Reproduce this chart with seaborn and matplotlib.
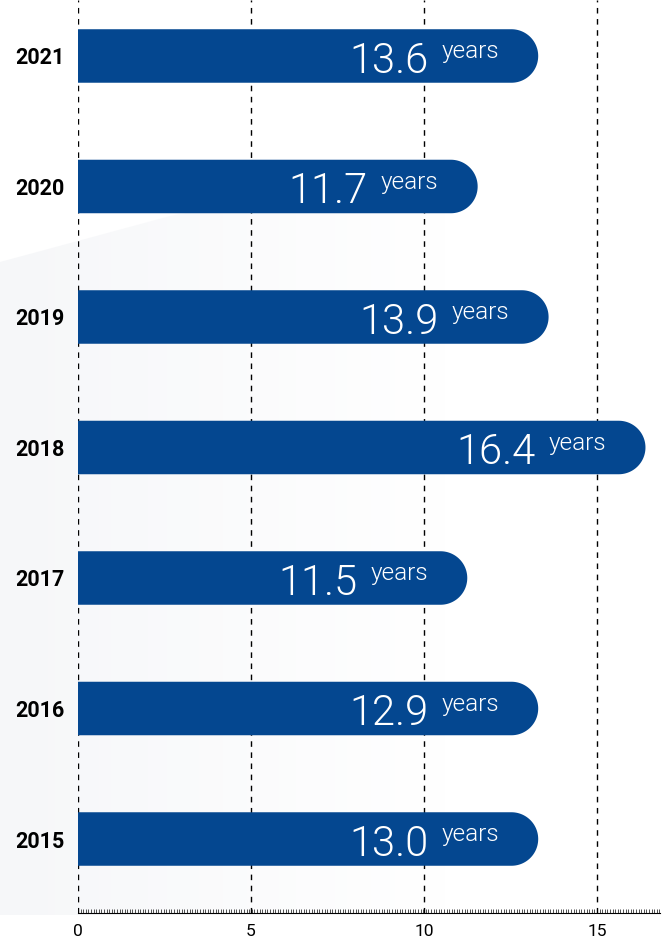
import numpy as np
import pandas as pd
import seaborn as sns
import matplotlib.pyplot as plt
from matplotlib.patches import Polygon
from matplotlib.ticker import MultipleLocator

years = ['2021', '2020', '2019', '2018', '2017', '2016', '2015']
avg_age = [13.6, 11.7, 13.9, 16.4, 11.5, 12.9, 13.0]
# bar lengths as drawn in the source graphic (they don't follow the labels exactly)
bar_len = [13.3, 11.55, 13.6, 16.4, 11.25, 13.3, 13.3]
x_ticks = [0, 5, 10, 15]

df = pd.DataFrame({'year': years, 'age': avg_age, 'bar': bar_len})

blue = '#044790'
W, H, DPI = 670, 947, 100

sns.set_theme(style='white')
plt.rcParams['font.family'] = ['Roboto', 'DejaVu Sans']

fig = plt.figure(figsize=(W / DPI, H / DPI), dpi=DPI)

# faint grey backdrop shape, fading out to the right
bg = fig.add_axes([0, 0, 1, 1], zorder=-1)
bg.set_xlim(0, W)
bg.set_ylim(H, 0)
bg.axis('off')
grad = np.zeros((2, 256, 4))
grad[..., 0] = 0.968
grad[..., 1] = 0.972
grad[..., 2] = 0.98
grad[..., 3] = np.clip(1 - np.linspace(0, 1, 256) * 1.5, 0, 1)
im = bg.imshow(grad, extent=(0, W, H, 0), aspect='auto')
shape = Polygon([(0, 262), (170, 216), (670, 120), (670, 915), (0, 915)],
                closed=True, transform=bg.transData, fc='none', ec='none')
bg.add_patch(shape)
im.set_clip_path(shape)

# main axes
ax = fig.add_axes([78 / W, 34 / H, (660 - 78) / W, 913 / H])
ax.patch.set_alpha(0)
sns.barplot(data=df, x='bar', y='year', orient='h', color=blue, width=0.41,
            saturation=1, ax=ax)

xmax = 16.82
ymin, ymax = -0.429, 6.567
ax.set_xlim(0, xmax)
ax.set_ylim(ymax, ymin)

# replace the flat bars with bars that have a half-round right end
px_x = (660 - 78) / xmax
px_y = 913 / (ymax - ymin)
t = np.linspace(-np.pi / 2, np.pi / 2, 60)
for p in list(ax.patches):
    x0, y0, w, h = p.get_x(), p.get_y(), p.get_width(), p.get_height()
    p.remove()
    yc = y0 + h / 2
    rx = (h / 2) * px_y / px_x
    xe = x0 + w - rx
    cap = np.column_stack([xe + rx * np.cos(t), yc + (h / 2) * np.sin(t)])
    pts = np.vstack([[x0, y0], cap, [x0, y0 + h]])
    ax.add_patch(Polygon(pts, closed=True, fc=blue, ec='none', zorder=3))

for i, (v, b) in enumerate(zip(avg_age, bar_len)):
    ax.annotate(f'{v:.1f}', xy=(b, i), xytext=(-110, -16.7), textcoords='offset pixels',
                ha='right', va='baseline', color='white', fontsize=30,
                fontweight=300, zorder=4)
    ax.annotate('years', xy=(b, i), xytext=(-39, -2.3), textcoords='offset pixels',
                ha='right', va='baseline', color='white', fontsize=17.5,
                fontweight=300, zorder=4)

ax.grid(axis='x', color='black', linestyle=(0, (4, 4)), linewidth=1)
ax.grid(axis='y', visible=False)
ax.set_axisbelow(True)

for s in ['top', 'right', 'left']:
    ax.spines[s].set_visible(False)
ax.spines['bottom'].set_color('black')
ax.spines['bottom'].set_linewidth(0.8)

ax.set_xticks(x_ticks)
ax.xaxis.set_minor_locator(MultipleLocator(0.075))
ax.tick_params(axis='x', which='major', direction='in', length=4, width=0.8,
               color='black', labelsize=12.5, pad=8, labelcolor='black')
ax.tick_params(axis='x', which='minor', direction='in', length=3, width=0.6,
               color='#333333', bottom=True)
ax.tick_params(axis='y', length=0, labelsize=15.5, pad=9.4, labelcolor='black')
for lab in ax.get_yticklabels():
    lab.set_fontweight('bold')
ax.set_xlabel('')
ax.set_ylabel('')

fig.savefig('out.png', dpi=DPI)
